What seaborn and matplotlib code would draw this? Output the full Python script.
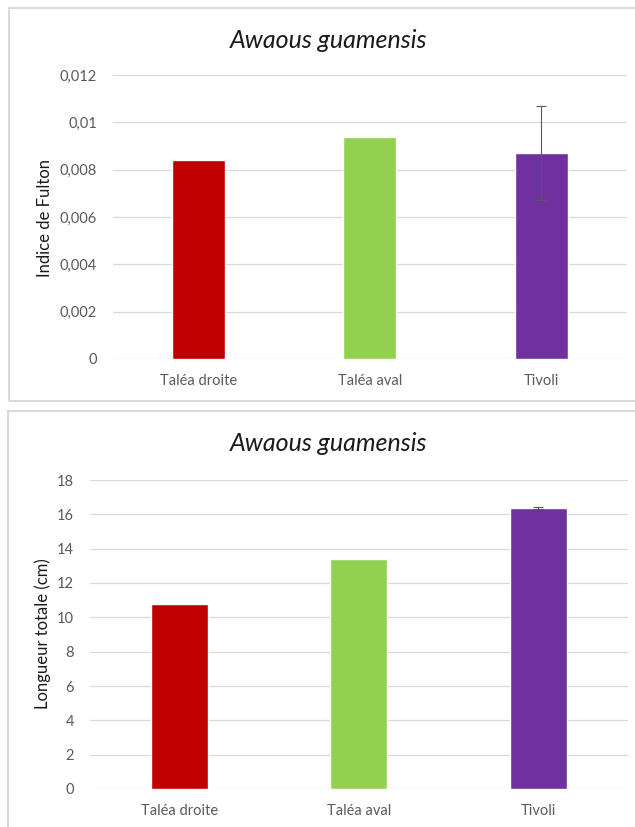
import numpy as np
import pandas as pd
import matplotlib
matplotlib.use("Agg")
import matplotlib.pyplot as plt
from matplotlib.patches import Rectangle
from matplotlib.ticker import FuncFormatter, MultipleLocator
import seaborn as sns

# --- data ---
sites = ["Taléa droite", "Taléa aval", "Tivoli"]
fulton = [0.0084, 0.0094, 0.0087]
fulton_err = [0.0, 0.0, 0.00197]
longueur = [10.78, 13.4, 16.37]
longueur_err = [0.0, 0.0, 0.05]
colors = ["#C00000", "#92D050", "#7030A0"]
species = "Awaous guamensis"

sns.set_theme(style="white")
plt.rcParams["font.family"] = ["Lato", "DejaVu Sans"]

W, H = 635, 827
fig = plt.figure(figsize=(W / 100, H / 100), dpi=100)


def fx(px):
    return px / W


def fy(py):
    return 1 - py / H


def comma_fmt(v, pos):
    return ("%g" % round(v, 6)).replace(".", ",")


def draw_panel(rect, values, errs, step, ymax, width, ylabel, title_y, ylabel_x, ylabel_y):
    ax = fig.add_axes(rect)
    df = pd.DataFrame({"site": sites, "val": values})
    sns.barplot(data=df, x="site", y="val", hue="site", palette=colors,
                legend=False, width=width, saturation=1, ax=ax)
    pos = np.arange(len(sites))
    e = np.array(errs)
    m = e > 0
    ax.errorbar(pos[m], np.array(values)[m], yerr=e[m], fmt="none",
                ecolor="#595959", elinewidth=0.8, capsize=3.5, capthick=0.8)
    ax.set_ylim(0, ymax)
    ax.set_xlim(-0.5, len(sites) - 0.5)
    ax.yaxis.set_major_locator(MultipleLocator(step))
    ax.yaxis.set_major_formatter(FuncFormatter(comma_fmt))
    ax.grid(axis="y", color="#D9D9D9", linewidth=0.9)
    ax.set_axisbelow(True)
    for s in ax.spines.values():
        s.set_visible(False)
    ax.tick_params(axis="both", length=0, labelsize=10.5, labelcolor="#595959")
    ax.tick_params(axis="x", pad=11)
    ax.tick_params(axis="y", pad=11)
    ax.set_xlabel("")
    ax.set_ylabel("")
    fig.text(fx(329), fy(title_y), species, ha="center", va="center",
             fontsize=18, style="italic", color="#1a1a1a")
    fig.text(fx(ylabel_x), fy(ylabel_y), ylabel, ha="center", va="center",
             rotation=90, fontsize=12, color="#1a1a1a")
    return ax


# panel borders
fig.add_artist(Rectangle((fx(9), fy(401)), 1.0, (401 - 8) / H,
                         transform=fig.transFigure, fill=False,
                         edgecolor="#D9D9D9", linewidth=1.5))
fig.add_artist(Rectangle((fx(8), -0.02), 1.0, (H - 411) / H + 0.02,
                         transform=fig.transFigure, fill=False,
                         edgecolor="#D9D9D9", linewidth=1.5))

# top panel: Fulton index
draw_panel([fx(112.5), fy(359), fx(627) - fx(112.5), (359 - 75) / H],
           fulton, fulton_err, 0.002, 0.012, 0.31,
           "Indice de Fulton", 40, 45, 218)

# bottom panel: total length
draw_panel([fx(89.5), fy(789), fx(628) - fx(89.5), (789 - 480) / H],
           longueur, longueur_err, 2, 18, 0.32,
           "Longueur totale (cm)", 443, 43, 634)

fig.savefig("out.png", dpi=100, facecolor="white")
